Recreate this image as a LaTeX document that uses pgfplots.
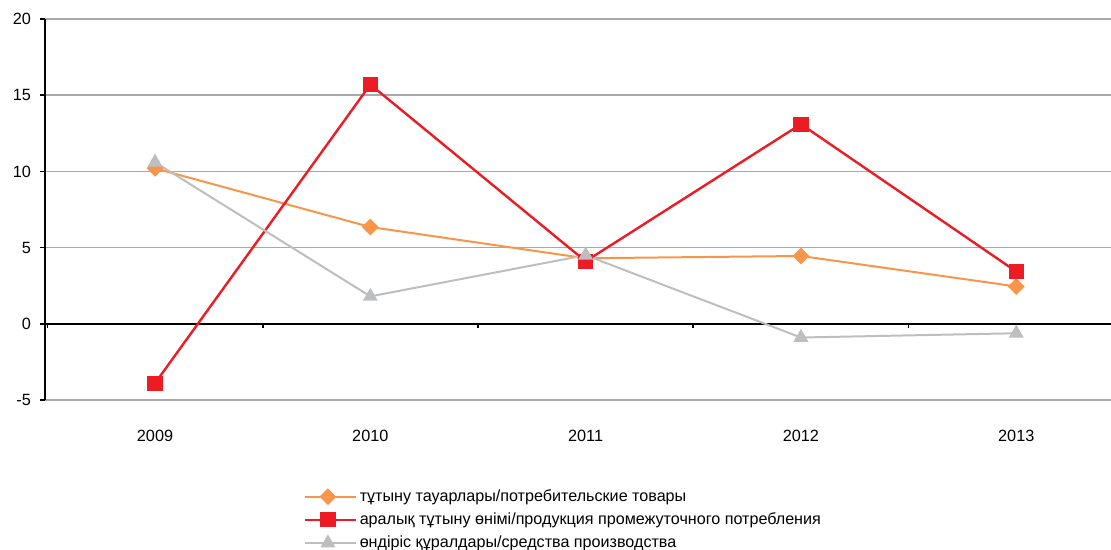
\documentclass[border=0pt]{standalone}
\usepackage{pgfplots}
\pgfplotsset{compat=1.18}
\usepackage{fontspec}
\setmainfont{Liberation Sans}
\definecolor{cOrange}{HTML}{F7964A}
\definecolor{cRed}{HTML}{ED1C24}
\definecolor{cGray}{HTML}{BDBEC0}
\definecolor{cGrid}{HTML}{A7A9AC}
\begin{document}
\begin{tikzpicture}
\begin{axis}[
    scale only axis,
    width=799.5pt, height=285.75pt,
    xmin=0.489, xmax=5.44, ymin=-5, ymax=20,
    xtick={1,2,3,4,5},
    xticklabels={2009,2010,2011,2012,2013},
    ytick={-5,5,10,15,20},
    extra y ticks={0},
    extra y tick style={grid style={black, line width=1.5pt}},
    ymajorgrids, grid style={cGrid, line width=1.1pt},
    axis x line*=bottom, axis y line*=left,
    x axis line style={draw=none},
    y axis line style={black, line width=1.5pt},
    xtick style={draw=none},
    ytick style={black, line width=1.2pt},
    tick align=outside, major tick length=4pt,
    tick label style={font=\fontsize{12.2}{14}\selectfont},
    /pgf/number format/assume math mode=true,
    xticklabel style={yshift=-15pt},
    yticklabel style={xshift=-3pt},
    legend cell align=left,
    legend style={at={(0.239,-0.221)}, anchor=north west, draw=none,
        font=\fontsize{12.1}{14}\selectfont, row sep=3pt,
        /tikz/every even column/.append style={column sep=4pt}},
    legend image code/.code={
        \draw[mark repeat=2,mark phase=2] plot coordinates {(0pt,0pt) (17pt,0pt) (34pt,0pt)};
        \path (34pt,0pt) -- (38pt,0pt);},
]
\draw[black, line width=1.3pt] (axis cs:0.5,0) -- (axis cs:0.5,-0.25);
\draw[black, line width=1.3pt] (axis cs:1.5,0) -- (axis cs:1.5,-0.25);
\draw[black, line width=1.3pt] (axis cs:2.5,0) -- (axis cs:2.5,-0.25);
\draw[black, line width=1.3pt] (axis cs:3.5,0) -- (axis cs:3.5,-0.25);
\draw[black, line width=1.3pt] (axis cs:4.5,0) -- (axis cs:4.5,-0.25);
\addplot[cOrange, line width=1.5pt, mark=square*, mark size=3.7pt,
    mark options={rotate=45}] coordinates {
    (1,10.2) (2,6.35) (3,4.3) (4,4.45) (5,2.45)};
\addlegendentry{тұтыну тауарлары/потребительские товары}
\addplot[cRed, line width=1.8pt, mark=square*, mark size=4.8pt] coordinates {
    (1,-3.9) (2,15.7) (3,4.1) (4,13.1) (5,3.43)};
\addlegendentry{аралық тұтыну өнімі/продукция промежуточного потребления}
\addplot[cGray, line width=1.5pt, mark=triangle*, mark size=5pt] coordinates {
    (1,10.6) (2,1.8) (3,4.5) (4,-0.9) (5,-0.62)};
\addlegendentry{өндіріс құралдары/средства производства}
\end{axis}
\pgfresetboundingbox
\useasboundingbox (-33.75pt,-112.5pt) rectangle (799.5pt,300pt);
\end{tikzpicture}
\end{document}
